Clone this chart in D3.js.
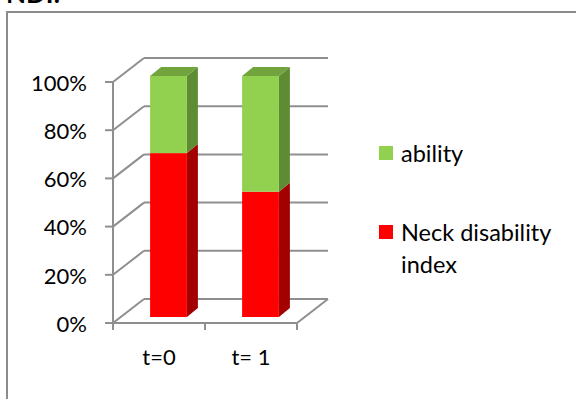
<!DOCTYPE html>
<html>
<head>
<meta charset="utf-8">
<script src="https://cdn.jsdelivr.net/npm/d3@7"></script>
<style>
  html, body { margin: 0; padding: 0; background: #fff; }
  svg { display: block; }
  text { font-family: Lato, "Open Sans", sans-serif; fill: #000; }
</style>
</head>
<body>
<svg id="chart" width="576" height="399"></svg>
<script>
// Stacked 100% columns: share of "Neck disability index" vs "ability"
const categories = ["t=0", "t= 1"];
const neckDisability = [0.68, 0.52];
const ability = [0.32, 0.48];
const seriesNames = ["Neck disability index", "ability"];
const yTicks = [0, 0.2, 0.4, 0.6, 0.8, 1.0];
const yTickLabels = ["0%", "20%", "40%", "60%", "80%", "100%"];

const svg = d3.select("#chart");

// Frame around the chart area
svg.append("path")
  .attr("d", "M7,399 L7,12 L576,12")
  .attr("fill", "none").attr("stroke", "#8c8c8c").attr("stroke-width", 2);

// Heading above the frame (runs off the top edge)
svg.append("text")
  .attr("x", 6).attr("y", 3)
  .attr("font-size", 26).attr("font-weight", "bold")
  .attr("font-family", "Liberation Sans, Arial, sans-serif")
  .text("NDI:");

// Front plane of the 3D plot
const x = d3.scaleBand().domain(categories).range([113, 297])
  .paddingInner(0.6).paddingOuter(0.3);
const y = d3.scaleLinear().domain([0, 1]).range([323, 82]);

// Wall depth and bar depth offsets
const wall = { dx: 31, dy: -24 };
const barFront = { dx: 9.5, dy: -6 };
const barDepth = { dx: 11, dy: -9 };

const gridColor = "#8f8f8f";
const grid = svg.append("g").attr("fill", "none")
  .attr("stroke", gridColor).attr("stroke-width", 2);

// Back wall gridlines and side wall diagonals
yTicks.forEach(t => {
  const yy = y(t);
  grid.append("line")
    .attr("x1", x.range()[0] + wall.dx).attr("y1", yy + wall.dy)
    .attr("x2", x.range()[1] + wall.dx).attr("y2", yy + wall.dy);
  grid.append("line")
    .attr("x1", x.range()[0]).attr("y1", yy)
    .attr("x2", x.range()[0] + wall.dx).attr("y2", yy + wall.dy);
});
// Floor: front edge and right diagonal
grid.append("line")
  .attr("x1", x.range()[0]).attr("y1", y(0))
  .attr("x2", x.range()[1]).attr("y2", y(0));
grid.append("line")
  .attr("x1", x.range()[1]).attr("y1", y(0))
  .attr("x2", x.range()[1] + wall.dx).attr("y2", y(0) + wall.dy);

// Vertical axis with ticks
grid.append("line")
  .attr("x1", x.range()[0]).attr("y1", y(1))
  .attr("x2", x.range()[0]).attr("y2", y(0) + 7);
yTicks.forEach(t => {
  grid.append("line")
    .attr("x1", x.range()[0] - 8).attr("y1", y(t))
    .attr("x2", x.range()[0]).attr("y2", y(t));
});
// Category boundary ticks under the floor
const step = x.step();
[0, 1, 2].forEach(i => {
  const xx = x.range()[0] + i * step;
  grid.append("line")
    .attr("x1", xx).attr("y1", y(0))
    .attr("x2", xx).attr("y2", y(0) + 7);
});

// Y tick labels
svg.append("g").selectAll("text").data(yTicks).join("text")
  .attr("x", 87).attr("y", d => y(d) + 1)
  .attr("dy", "0.35em")
  .attr("text-anchor", "end")
  .attr("font-size", 22)
  .text((d, i) => yTickLabels[i]);

// Category labels
svg.append("g").selectAll("text").data(categories).join("text")
  .attr("x", d => x(d) + x.bandwidth() / 2).attr("y", 365)
  .attr("text-anchor", "middle")
  .attr("font-size", 22)
  .text(d => d);

// Stacked 3D bars
const colors = {
  "Neck disability index": { front: "#ff0000", side: "#a30000", top: "#c00000" },
  "ability": { front: "#92d050", side: "#5f8c33", top: "#72a43e" }
};
const stackData = categories.map((c, i) => ({
  cat: c, "Neck disability index": neckDisability[i], "ability": ability[i]
}));
const stacked = d3.stack().keys(seriesNames)(stackData);

const bars = svg.append("g");
stacked.forEach((layer, li) => {
  const col = colors[layer.key];
  layer.forEach(seg => {
    const x0 = x(seg.data.cat) + barFront.dx;
    const x1 = x0 + x.bandwidth();
    const yb = y(seg[0]) + barFront.dy;
    const yt = y(seg[1]) + barFront.dy;
    // side face
    bars.append("path")
      .attr("d", `M${x1},${yb} L${x1},${yt} L${x1 + barDepth.dx},${yt + barDepth.dy} L${x1 + barDepth.dx},${yb + barDepth.dy} Z`)
      .attr("fill", col.side);
    // front face
    bars.append("rect")
      .attr("x", x0).attr("y", yt)
      .attr("width", x.bandwidth()).attr("height", yb - yt)
      .attr("fill", col.front);
    // top face on the highest segment only
    if (li === stacked.length - 1) {
      bars.append("path")
        .attr("d", `M${x0},${yt} L${x1},${yt} L${x1 + barDepth.dx},${yt + barDepth.dy} L${x0 + barDepth.dx},${yt + barDepth.dy} Z`)
        .attr("fill", col.top);
    }
  });
});

// Legend
const legend = svg.append("g");
const legendItems = [
  { name: "ability", lines: ["ability"], y: 146, base: 162 },
  { name: "Neck disability index", lines: ["Neck disability", "index"], y: 225, base: 241 }
];
legendItems.forEach(item => {
  legend.append("rect")
    .attr("x", 379).attr("y", item.y).attr("width", 14).attr("height", 14)
    .attr("fill", colors[item.name].front);
  const t = legend.append("text")
    .attr("x", 401).attr("y", item.base)
    .attr("font-size", 23.5);
  item.lines.forEach((ln, k) => {
    t.append("tspan").attr("x", 401).attr("dy", k === 0 ? 0 : 32).text(ln);
  });
});
</script>
</body>
</html>
